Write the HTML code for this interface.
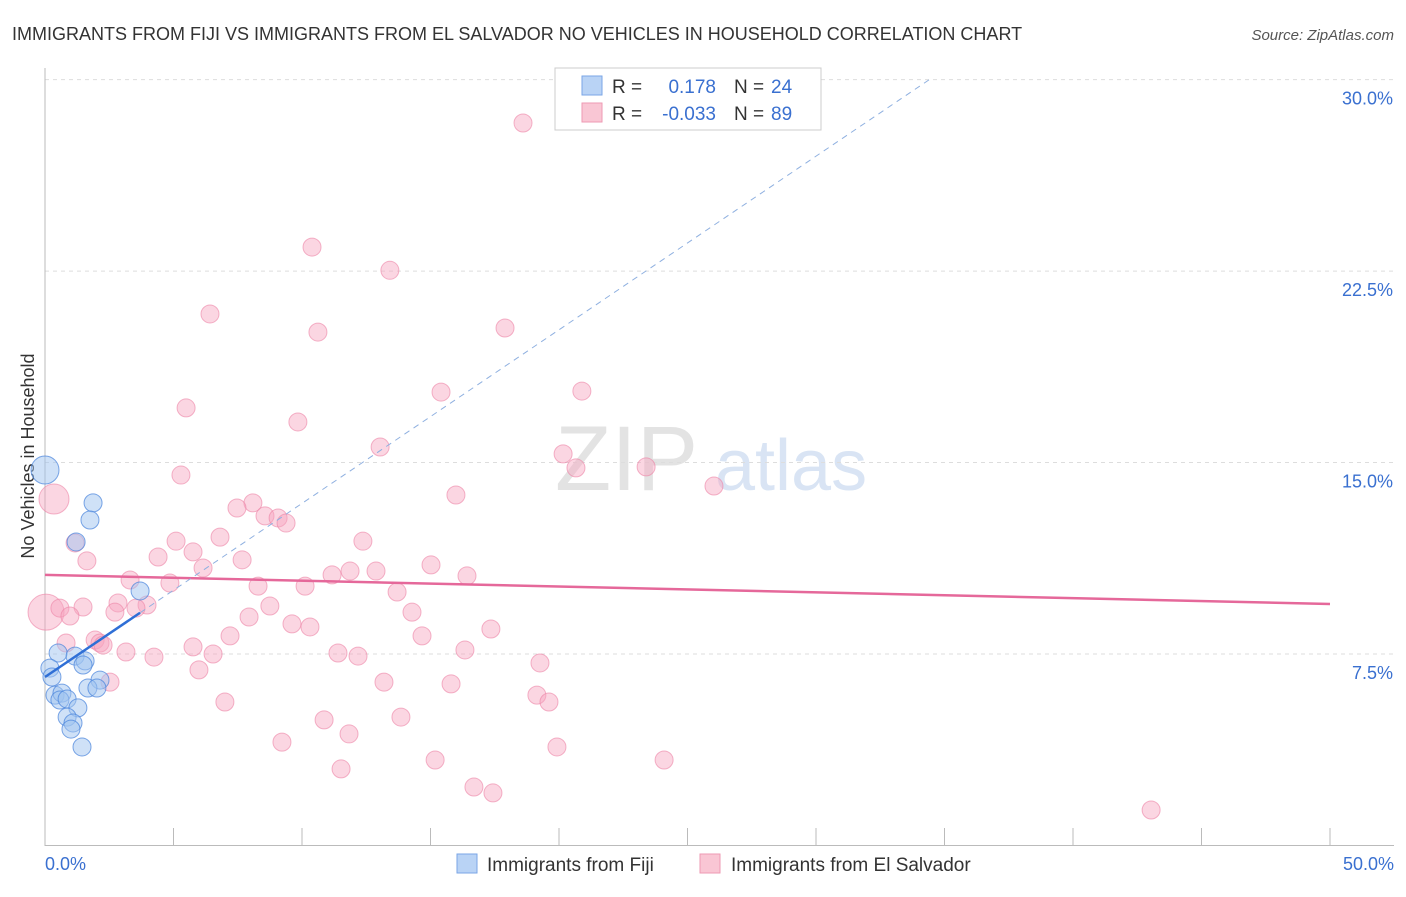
<!DOCTYPE html>
<html><head><meta charset="utf-8"><style>
body{margin:0;background:#fff;font-family:"Liberation Sans",sans-serif;}
svg text{font-family:"Liberation Sans",sans-serif;}
</style></head><body>
<svg id="chart" width="1406" height="892" viewBox="0 0 1406 892" xmlns="http://www.w3.org/2000/svg">
<text x="12" y="40" font-size="18" fill="#333">IMMIGRANTS FROM FIJI VS IMMIGRANTS FROM EL SALVADOR NO VEHICLES IN HOUSEHOLD CORRELATION CHART</text>
<text x="1394" y="40" font-size="15" fill="#555" font-style="italic" text-anchor="end">Source: ZipAtlas.com</text>
<text transform="translate(34,456) rotate(-90)" font-size="18" fill="#333" text-anchor="middle">No Vehicles in Household</text>
<g><text x="555" y="490" font-size="92" fill="#ddd" font-family="Liberation Serif" opacity="0.8">ZIP</text><text x="715" y="490" font-size="72" fill="#c9daf0" opacity="0.7">atlas</text></g>
<g id="grid"></g>
<g id="axes"></g>
<g id="pinkpts"></g>
<g id="bluepts"></g>
<g id="lines"></g>
<g>
<rect x="555" y="68" width="266" height="62" fill="#fff" stroke="#ccc"/>
<rect x="582" y="76" width="20" height="19" fill="#b9d3f5" stroke="#7aa6e6"/>
<rect x="582" y="103" width="20" height="19" fill="#f9c6d4" stroke="#ee9ab3"/>
<text x="612" y="93" font-size="19" fill="#333">R =</text><text x="716" y="93" font-size="19" fill="#3a70d0" text-anchor="end">0.178</text>
<text x="734" y="93" font-size="19" fill="#333">N =</text><text x="771" y="93" font-size="19" fill="#3a70d0">24</text>
<text x="612" y="120" font-size="19" fill="#333">R =</text><text x="716" y="120" font-size="19" fill="#3a70d0" text-anchor="end">-0.033</text>
<text x="734" y="120" font-size="19" fill="#333">N =</text><text x="771" y="120" font-size="19" fill="#3a70d0">89</text>
</g>
<g>
<g><rect x="457" y="854" width="20" height="19" fill="#b9d3f5" stroke="#7aa6e6"/><text x="487" y="871" font-size="19" fill="#333">Immigrants from Fiji</text></g>
<g><rect x="700" y="854" width="20" height="19" fill="#f9c6d4" stroke="#ee9ab3"/><text x="731" y="871" font-size="19" fill="#333">Immigrants from El Salvador</text></g>
</g>
</svg>
<script>
const yTicks=[7.5,15.0,22.5,30.0];
const xTickLabels=["0.0%","50.0%"];
const pinkX=[18.6,10.39,13.42,6.42,10.62,17.9,15.41,20.89,5.49,9.84,13.04,20.16,20.66,23.39,5.29,26.03,15.99,0.35,8.09,7.47,8.56,9.07,9.38,6.81,12.37,5.1,1.17,5.76,4.4,1.63,7.67,6.15,11.87,12.88,15.02,11.17,16.42,3.31,4.86,8.29,10.12,13.7,0.04,0.58,1.48,2.84,3.97,3.54,2.72,8.75,14.28,7.94,0.97,9.61,10.31,17.35,7.2,14.67,1.95,0.82,2.14,2.26,5.76,6.54,11.4,12.18,16.34,3.15,4.24,19.26,5.99,13.19,15.8,2.53,19.14,19.61,7.0,13.85,10.86,11.83,9.22,19.92,15.18,24.09,11.52,16.69,17.43,43.04];
const pinkY=[28.3,23.44,22.53,20.82,20.11,20.27,17.76,17.8,17.14,16.59,15.61,15.34,14.79,14.83,14.51,14.08,13.73,13.57,13.42,13.22,12.91,12.83,12.63,12.08,11.92,11.92,11.85,11.5,11.3,11.15,11.19,10.87,10.75,10.75,10.99,10.6,10.56,10.4,10.28,10.16,10.16,9.93,9.14,9.3,9.34,9.5,9.42,9.3,9.14,9.38,9.14,8.95,8.99,8.68,8.56,8.48,8.21,8.21,8.05,7.93,7.93,7.85,7.78,7.5,7.54,7.42,7.66,7.58,7.38,7.15,6.88,6.4,6.33,6.4,5.89,5.62,5.62,5.03,4.92,4.37,4.05,3.86,3.35,3.35,3.0,2.29,2.06,1.39];
const blueX=[0,1.87,1.75,1.21,3.7,0.51,1.17,1.56,1.48,0.19,0.27,2.14,1.67,2.02,0.39,0.66,0.58,0.86,1.28,0.86,1.09,1.01,1.44];
const blueY=[14.71,13.42,12.75,11.89,9.97,7.54,7.42,7.23,7.07,6.95,6.6,6.48,6.17,6.17,5.89,5.97,5.7,5.74,5.39,5.03,4.8,4.56,3.86];
const pinkTrend=[10.6,9.46];
const blueTrend=[6.6,0.68];
const NS="http://www.w3.org/2000/svg";
function sx(v){return 45+v*25.7;}
function sy(v){return 845.5-v*25.53;}
function mk(tag,attrs,parent){const e=document.createElementNS(NS,tag);for(const k in attrs)e.setAttribute(k,attrs[k]);parent.appendChild(e);return e;}
const grid=document.getElementById('grid'),axes=document.getElementById('axes');
yTicks.forEach(t=>{
 const l=mk('line',{x1:45,x2:1394,y1:sy(t),y2:sy(t),stroke:'#ddd','stroke-dasharray':'4,4'},grid);
 
 
 const tx=mk('text',{x:1393,y:sy(t)+25,'font-size':18,fill:'#3a70d0','text-anchor':'end'},axes);
 tx.textContent=t.toFixed(1)+'%';
 
 
});
mk('line',{x1:45,x2:45,y1:68,y2:846,stroke:'#bbb'},axes);
mk('line',{x1:45,x2:1394,y1:845.5,y2:845.5,stroke:'#bbb'},axes);
for(let i=0;i<=10;i++){mk('line',{x1:sx(i*5),x2:sx(i*5),y1:828,y2:846,stroke:'#bbb'},axes);}
const xl=mk('text',{x:45,y:870,'font-size':18,fill:'#3a70d0'},axes);xl.textContent=xTickLabels[0];


const xr=mk('text',{x:1394,y:870,'font-size':18,fill:'#3a70d0','text-anchor':'end'},axes);xr.textContent=xTickLabels[1];


const pg=document.getElementById('pinkpts');
pinkX.forEach((x,i)=>{
 const r=(i===17)?15:(i===42?18:9);
 const c=mk('circle',{cx:sx(x),cy:sy(pinkY[i]),r:r,fill:'rgba(246,164,190,0.45)',stroke:'rgba(236,130,165,0.6)','stroke-width':1},pg);
 
 
});
const bg=document.getElementById('bluepts');
blueX.forEach((x,i)=>{
 const r=(i===0)?14:9;
 const c=mk('circle',{cx:sx(x),cy:sy(blueY[i]),r:r,fill:'rgba(160,195,240,0.5)',stroke:'rgba(70,130,220,0.7)','stroke-width':1},bg);
 
 
});
const lg=document.getElementById('lines');
const pl=mk('line',{x1:sx(0),y1:sy(pinkTrend[0]),x2:sx(50),y2:sy(pinkTrend[1]),stroke:'#e5689a','stroke-width':2.5},lg);


const bxEnd=Math.max(...blueX);
const bl=mk('line',{x1:sx(0),y1:sy(blueTrend[0]),x2:sx(bxEnd),y2:sy(blueTrend[0]+blueTrend[1]*bxEnd),stroke:'#2f6fd6','stroke-width':2.5},lg);


const xTop=(30-blueTrend[0])/blueTrend[1];
const bd=mk('line',{x1:sx(bxEnd),y1:sy(blueTrend[0]+blueTrend[1]*bxEnd),x2:sx(xTop),y2:sy(30),stroke:'#8fb0e0','stroke-width':1,'stroke-dasharray':'6,5'},lg);


</script>
</body></html>
